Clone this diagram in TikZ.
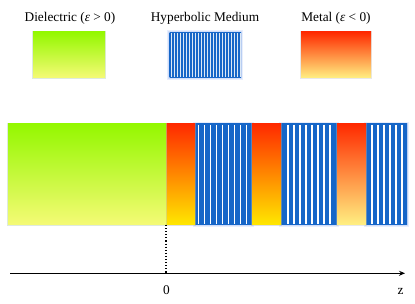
\documentclass[tikz,border=0pt]{standalone}
\usepackage{fontspec}
\setmainfont{Liberation Serif}
\usetikzlibrary{arrows.meta}
\definecolor{dgreen}{RGB}{148,248,0}
\definecolor{dyellow}{RGB}{245,250,118}
\definecolor{mred}{RGB}{255,42,0}
\definecolor{morange}{RGB}{255,140,20}
\definecolor{myellow}{RGB}{255,232,0}
\definecolor{mpale}{RGB}{255,240,130}
\definecolor{morange2}{RGB}{255,150,70}
\definecolor{hblue}{RGB}{22,102,200}
\definecolor{hdark}{RGB}{10,72,152}
\definecolor{hhalo}{RGB}{165,190,245}
\definecolor{ghalo}{RGB}{190,215,190}
\begin{document}
\begin{tikzpicture}[x=1pt,y=-1pt,
  font=\fontsize{13.3}{15}\selectfont,
  box/.style={rectangle, inner sep=0pt, outer sep=0pt, anchor=north west},
  diel/.style={box, top color=dgreen, bottom color=dyellow,
    preaction={draw=ghalo, line width=2.4pt, draw opacity=.5}},
  metal/.style={box, top color=mred, middle color=morange, bottom color=myellow,
    preaction={draw=gray!60, line width=1.6pt, draw opacity=.4}},
  metalp/.style={box, top color=mred, middle color=morange2, bottom color=mpale,
    preaction={draw=gray!50, line width=1.6pt, draw opacity=.35}},
  hyp/.style={box, left color=hblue, middle color=hdark, right color=hblue,
    preaction={draw=hhalo, line width=4.5pt, draw opacity=.25},
    preaction={draw=hhalo, line width=2.5pt, draw opacity=.35}},
  stripe/.style={white, line width=1.4pt},
  fstripe/.style={white, line width=0.9pt, opacity=.85},
  lbl/.style={anchor=base, inner sep=0pt}
]
\useasboundingbox (0,0) rectangle (415,304);
\fill[white] (0,0) rectangle (415,304);

% legend
\node[lbl] (tD) at (70,21.5) {Dielectric (\textit{ε} > 0)};
\node[lbl] (tH) at (205,21.5) {Hyperbolic Medium};
\node[lbl] (tM) at (336,21.5) {Metal (\textit{ε} < 0)};

\node[diel, minimum width=72pt, minimum height=46pt] (lD) at (33,32) {};
\node[hyp, minimum width=71.5pt, minimum height=45pt] (lH) at (169.5,32.5) {};
\foreach \k in {0,...,23}
  \draw[fstripe] ([xshift={1.6pt+3pt*\k}, yshift=-0.8pt]lH.north west) -- ([xshift={1.6pt+3pt*\k}, yshift=0.8pt]lH.south west);
\node[metalp, minimum width=70pt, minimum height=46pt] (lM) at (301,32) {};

% main strip
\node[hyp, minimum width=57pt, minimum height=101pt] (h1) at (195,124) {};
\node[hyp, minimum width=56pt, minimum height=101pt] (h2) at (281,124) {};
\node[hyp, minimum width=41pt, minimum height=101pt] (h3) at (366,124) {};
\foreach \k in {0,...,8}
  \draw[stripe] ([xshift={3.5pt+6pt*\k}, yshift=-0.8pt]h1.north west) -- ([xshift={3.5pt+6pt*\k}, yshift=1.2pt]h1.south west);
\foreach \k in {0,...,7}
  \draw[stripe] ([xshift={7pt+6pt*\k}, yshift=-0.8pt]h2.north west) -- ([xshift={7pt+6pt*\k}, yshift=1.2pt]h2.south west);
\foreach \k in {0,...,5}
  \draw[stripe] ([xshift={6pt+6pt*\k}, yshift=-0.8pt]h3.north west) -- ([xshift={6pt+6pt*\k}, yshift=1.2pt]h3.south west);

\node[metal, minimum width=29pt, minimum height=101pt] (m1) at (166,124) {};
\node[metal, minimum width=29pt, minimum height=101pt] (m2) at (252,124) {};
\node[metalp, minimum width=29pt, minimum height=101pt] (m3) at (337,124) {};
\node[diel, minimum width=158pt, minimum height=101pt] (d) at (8,124) {};

% axis
\coordinate (axL) at (10,273.3);
\coordinate (axR) at (405,273.3);
\draw[line width=1.1pt, -{Stealth[length=6pt,width=5pt]}] (axL) -- (axR);
\draw[dotted, line width=1.1pt] (d.south east) -- (d.south east |- axL);
\node (zero) at (166.5,290) {0};
\node (zl) at (400.5,291) {z};
\end{tikzpicture}
\end{document}
